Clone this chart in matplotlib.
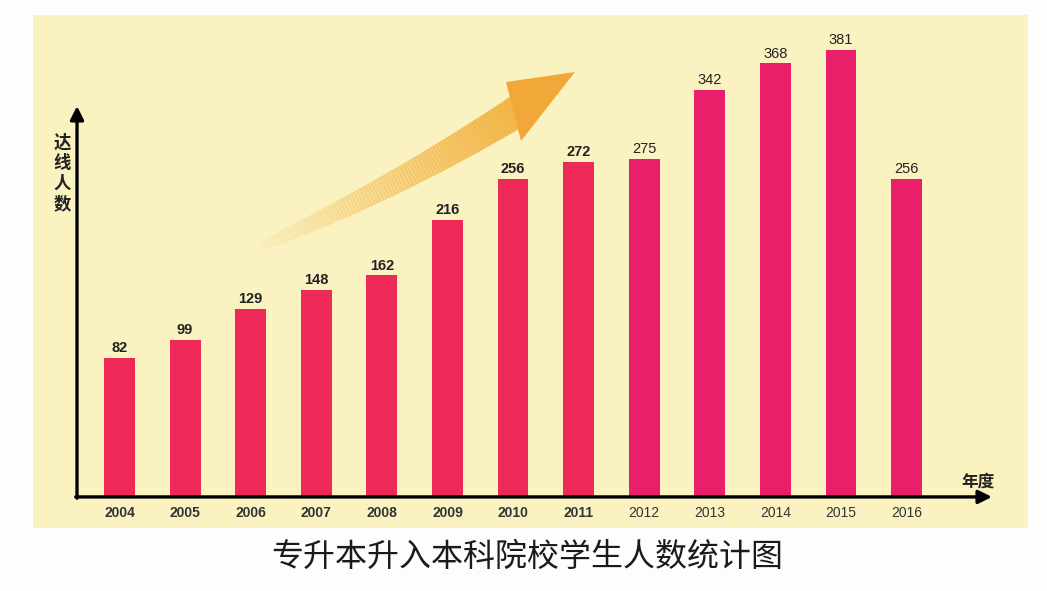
import numpy as np
import matplotlib
matplotlib.use("Agg")
import matplotlib.pyplot as plt
from matplotlib.collections import PolyCollection
from matplotlib.patches import Polygon

plt.rcParams['font.family'] = ['Noto Sans CJK SC', 'DejaVu Sans']

# data
years = ['2004', '2005', '2006', '2007', '2008', '2009', '2010',
         '2011', '2012', '2013', '2014', '2015', '2016']
counts = [82, 99, 129, 148, 162, 216, 256, 272, 275, 342, 368, 381, 256]

W, H = 1047, 591
fig = plt.figure(figsize=(W / 100, H / 100), dpi=100)
fig.patch.set_facecolor('#fdfdfb')


def px(x, y):
    # figure pixel (from top-left) -> figure fraction
    return x / W, 1 - y / H


# yellow panel = the axes
ax = fig.add_axes([33 / W, 1 - 528 / H, 995 / W, 513 / H])
ax.set_facecolor('#fbf2c2')
for s in ax.spines.values():
    s.set_visible(False)
ax.set_xticks([])
ax.set_yticks([])

floor = -53.4          # where the drawn x axis sits (picture is not to scale)
ax.set_xlim(-1.319, 13.85)
ax.set_ylim(-83.6, 415.0)

idx = np.arange(len(years))
cols = ['#ee2857'] * 8 + ['#ea1f6a'] * 5
ax.bar(idx, np.array(counts) - floor, bottom=floor, width=0.47,
       color=cols, zorder=3)

# value labels and year labels
for i, (y, v) in enumerate(zip(years, counts)):
    wt = 'bold' if i < 8 else 'normal'
    ax.annotate(str(v), (i, v), xytext=(0, 2), textcoords='offset points',
                ha='center', va='bottom', fontsize=10.5, fontweight=wt,
                family=['Liberation Sans'], color='#222222', zorder=4)
    ax.annotate(y, (i, floor), xytext=(0, -11.5), textcoords='offset points',
                ha='center', va='center', fontsize=10, fontweight=wt,
                family=['Liberation Sans'], color='#333333', zorder=4)

# axes arrows
ax_x = -0.648
ax.annotate('', xy=(ax_x, 326.5), xytext=(ax_x, floor - 1.2),
            arrowprops=dict(arrowstyle='-|>', lw=2.4, color='black',
                            mutation_scale=20, shrinkA=0, shrinkB=0), zorder=5)
ax.annotate('', xy=(13.30, floor), xytext=(ax_x - 0.02, floor),
            arrowprops=dict(arrowstyle='-|>', lw=2.4, color='black',
                            mutation_scale=20, shrinkA=0, shrinkB=0), zorder=5)

# axis titles
for k, ch in enumerate('达线人数'):
    fig.text(*px(62, 143 + 20.5 * k), ch, ha='center', va='center',
             fontsize=12.5, fontweight='bold', color='#222222')
fig.text(*px(978, 482), '年度', ha='center', va='center',
         fontsize=12, fontweight='bold', color='#222222')

# decorative rising arrow with fade
p0 = np.array([262.0, 246.0])
p1 = np.array([400.0, 186.0])
p2 = np.array([524.0, 107.0])
n = 90
ts = np.linspace(0, 1, n + 1)
pts = np.array([(1 - t) ** 2 * p0 + 2 * (1 - t) * t * p1 + t ** 2 * p2 for t in ts])
tang = np.gradient(pts, axis=0)
tang /= np.linalg.norm(tang, axis=1)[:, None]
nrm = np.column_stack([tang[:, 1], -tang[:, 0]])
widths = 6 + 26 * ts ** 0.6
left = pts + nrm * widths[:, None] / 2
right = pts - nrm * widths[:, None] / 2
quads, fcs = [], []
for k in range(n):
    q = [left[k], left[k + 1], right[k + 1], right[k]]
    quads.append([px(*p) for p in q])
    a = min(0.95, 0.05 + 0.95 * ts[k] ** 1.2)
    fcs.append((0.95, 0.70, 0.26, a))
pc = PolyCollection(quads, facecolors=fcs, edgecolors=fcs, linewidths=0.4,
                    transform=fig.transFigure, zorder=1)
fig.add_artist(pc)
head = Polygon([px(575, 72), px(506, 82), px(521, 141)], closed=True,
               facecolor='#f1a838', edgecolor='none', transform=fig.transFigure,
               zorder=1)
fig.add_artist(head)

# title under the panel
fig.text(*px(527, 557), '专升本升入本科院校学生人数统计图', ha='center',
         va='center', fontsize=23, color='#1a1a1a')

fig.savefig('out.png', dpi=100, facecolor=fig.get_facecolor())
